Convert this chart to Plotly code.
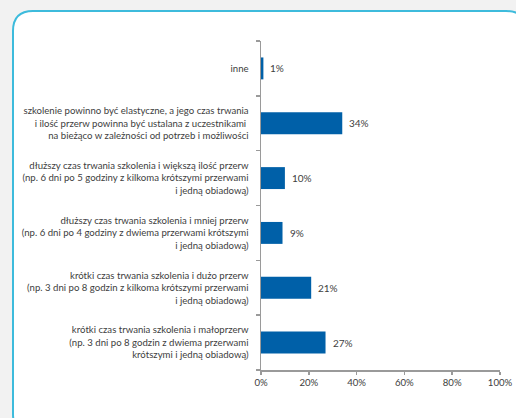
import plotly.graph_objects as go

categories = [
    "krótki czas trwania szkolenia i małoprzerw<br>(np. 3 dni po 8 godzin z dwiema przerwami<br>krótszymi i jedną obiadową)",
    "krótki czas trwania szkolenia i dużo przerw<br>(np. 3 dni po 8 godzin z kilkoma krótszymi przerwami<br>i jedną obiadową)",
    "dłuższy czas trwania szkolenia i mniej przerw<br>(np. 6 dni po 4 godziny z dwiema przerwami krótszymi<br>i jedną obiadową)",
    "dłuższy czas trwania szkolenia i większą ilość przerw<br>(np. 6 dni po 5 godziny z kilkoma krótszymi przerwami<br>i jedną obiadową)",
    "szkolenie powinno być elastyczne, a jego czas trwania<br>i ilość przerw powinna być ustalana z uczestnikami <br>na bieżąco w zależności od potrzeb i możliwości",
    "inne",
]
values = [27, 21, 9, 10, 34, 1]
x_ticks = [0, 20, 40, 60, 80, 100]
x_tick_labels = ["0%", "20%", "40%", "60%", "80%", "100%"]

W, H = 516, 418
L, R, T, B = 261, 500, 41, 370  # plot area in pixels

FONT = "Lato"
TXT = "#404040"
AXIS = "#9a9a9a"

fig = go.Figure()
fig.add_trace(go.Bar(
    x=values, y=categories, orientation="h",
    marker=dict(color="#0060a8", line=dict(width=0)),
    width=0.4, hoverinfo="skip",
))

for v, c in zip(values, categories):
    fig.add_annotation(x=v, y=c, text=f"{v}%", showarrow=False,
                       xanchor="left", xshift=5, font=dict(family=FONT, size=10, color=TXT))

def X(px):
    return (px - L) / (R - L)

def Y(py):
    return (B - py) / (B - T)

x0, y0, x1, y1, r = 13, 11, 526, 434, 20
path = (f"M {X(x0+r)} {Y(y0)} L {X(x1-r)} {Y(y0)} Q {X(x1)} {Y(y0)} {X(x1)} {Y(y0+r)} "
        f"L {X(x1)} {Y(y1-r)} Q {X(x1)} {Y(y1)} {X(x1-r)} {Y(y1)} "
        f"L {X(x0+r)} {Y(y1)} Q {X(x0)} {Y(y1)} {X(x0)} {Y(y1-r)} "
        f"L {X(x0)} {Y(y0+r)} Q {X(x0)} {Y(y0)} {X(x0+r)} {Y(y0)} Z")
fig.add_shape(type="path", path=path, xref="paper", yref="paper",
              fillcolor="white", line=dict(color="#3dbbdc", width=2), layer="below")

fig.update_layout(
    width=W, height=H,
    margin=dict(l=L, r=W - R, t=T, b=H - B, pad=0, autoexpand=False),
    paper_bgcolor="#f2f2f2",
    plot_bgcolor="rgba(0,0,0,0)",
    showlegend=False,
    font=dict(family=FONT, size=9.6, color=TXT),
    xaxis=dict(range=[0, 100], tickvals=x_ticks, ticktext=x_tick_labels,
               showgrid=False, zeroline=False, showline=True, linecolor=AXIS, linewidth=1.5,
               ticks="outside", ticklen=3, tickcolor=AXIS, tickwidth=1.5,
               tickfont=dict(family=FONT, size=9.6, color=TXT), fixedrange=True, automargin=False),
    yaxis=dict(categoryorder="array", categoryarray=categories,
               showgrid=False, zeroline=False, showline=True, linecolor=AXIS, linewidth=1.5,
               ticks="outside", ticklen=4, tickcolor=AXIS, tickwidth=1.5, tickson="boundaries",
               ticklabelstandoff=9,
               tickfont=dict(family=FONT, size=9.6, color=TXT), fixedrange=True, automargin=False),
)

fig.write_html("out.html", config={"displayModeBar": False, "staticPlot": True},
               post_script="document.body.style.margin='0';document.body.style.background='#f2f2f2';")
